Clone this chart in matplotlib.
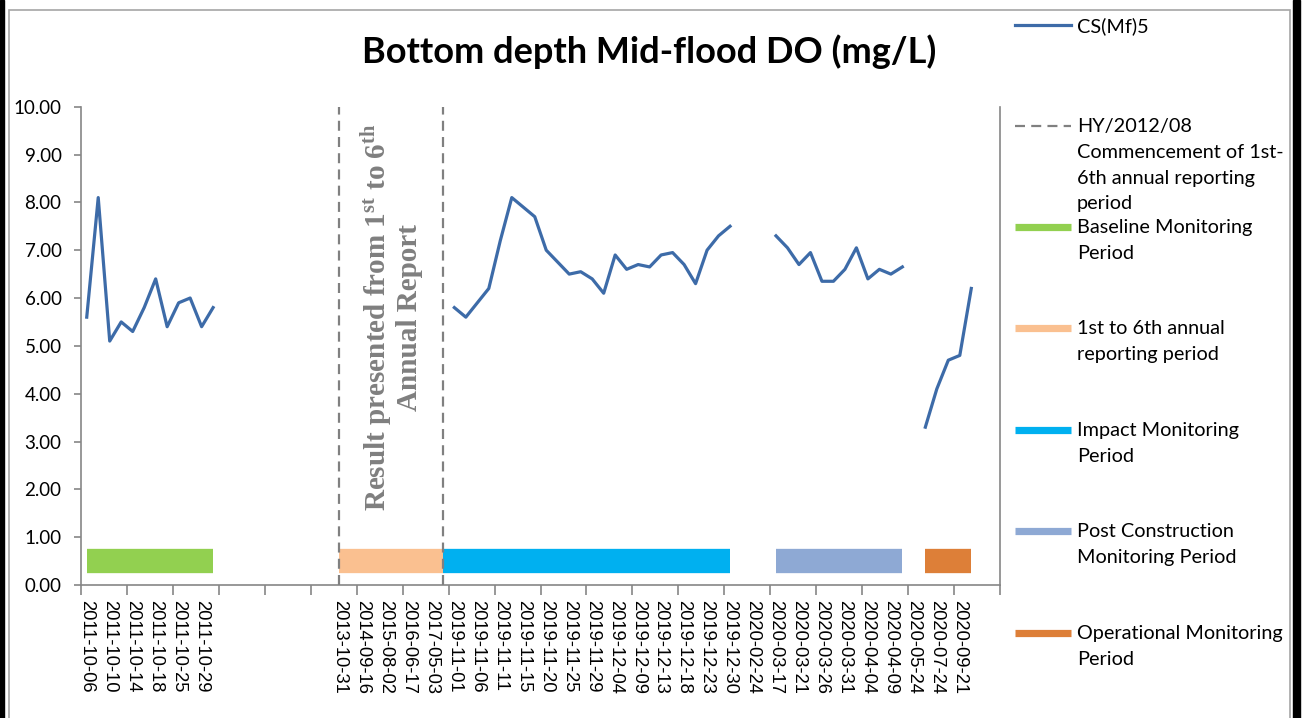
import numpy as np
import matplotlib
matplotlib.use("Agg")
import matplotlib.pyplot as plt
from matplotlib.lines import Line2D
from matplotlib.patches import Rectangle

plt.rcParams['mathtext.fontset'] = 'custom'
plt.rcParams['mathtext.rm'] = 'Liberation Serif:bold'
plt.rcParams['mathtext.bf'] = 'Liberation Serif:bold'
plt.rcParams['mathtext.it'] = 'Liberation Serif:bold'

W, H = 1303, 718

# ---------------- data ----------------
n_categories = 80
# labels displayed on every second category
tick_labels = ["2011-10-06", "2011-10-10", "2011-10-14", "2011-10-18", "2011-10-25", "2011-10-29",
               "", "", "", "", "",
               "2013-10-31", "2014-09-16", "2015-08-02", "2016-06-17", "2017-05-03",
               "2019-11-01", "2019-11-06", "2019-11-11", "2019-11-15", "2019-11-20", "2019-11-25",
               "2019-11-29", "2019-12-04", "2019-12-09", "2019-12-13", "2019-12-18", "2019-12-23",
               "2019-12-30", "2020-02-24", "2020-03-17", "2020-03-21", "2020-03-26", "2020-03-31",
               "2020-04-04", "2020-04-09", "2020-05-24", "2020-07-24", "2020-09-21", ""]

baseline_do = [5.6, 8.1, 5.1, 5.5, 5.3, 5.8, 6.4, 5.4, 5.9, 6.0, 5.4, 5.8]
reporting_gap = [None] * 20
impact_do = [5.8, 5.6, 5.9, 6.2, 7.2, 8.1, 7.9, 7.7, 7.0, 6.75, 6.5, 6.55, 6.4, 6.1, 6.9,
             6.6, 6.7, 6.65, 6.9, 6.95, 6.7, 6.3, 7.0, 7.3, 7.5]
gap2 = [None] * 3
post_do = [7.3, 7.05, 6.7, 6.95, 6.35, 6.35, 6.6, 7.05, 6.4, 6.6, 6.5, 6.65]
gap3 = [None]
operational_do = [3.3, 4.1, 4.7, 4.8, 6.2]
gap4 = [None] * 2
cs_mf5 = baseline_do + reporting_gap + impact_do + gap2 + post_do + gap3 + operational_do + gap4

period_labels = ["Baseline Monitoring\nPeriod", "1st to 6th annual\nreporting period",
                 "Impact Monitoring\nPeriod", "Post Construction\nMonitoring Period",
                 "Operational Monitoring\nPeriod"]
period_start = [0, 22, 31, 60, 73]
period_end = [11, 31, 56, 71, 77]
period_value = 0.5
period_colors = ["#92D050", "#FAC090", "#00B0F0", "#8EA9D4", "#DD7F38"]

reporting_markers = [22, 31]

# ---------------- figure ----------------
fig = plt.figure(figsize=(W / 100, H / 100), dpi=100)
def fx(px): return px / W
def fy(py): return 1 - py / H

ax = fig.add_axes([fx(81), fy(585), fx(1000) - fx(81), fy(106.7) - fy(585)])

x = np.arange(n_categories)
y = np.array([np.nan if v is None else v for v in cs_mf5], dtype=float)
line_color = "#3D6BA8"
ax.plot(x, y, color=line_color, lw=2.3, solid_joinstyle='round', zorder=5)

for s, e, c in zip(period_start, period_end, period_colors):
    xs = np.arange(s, e + 1)
    ax.plot(xs, [period_value] * len(xs), color=c, lw=17.5, solid_capstyle='butt', zorder=3)

dash = (0, (4.5, 2.8))
ax.vlines(reporting_markers, 0, 10, colors="#808080", linestyles=dash, lw=1.6, zorder=4)

ax.text(np.mean(reporting_markers), 5.6,
        "Result presented from 1$^{\\mathrm{st}}$ to 6$^{\\mathrm{th}}$\nAnnual Report",
        rotation=90, ha='center', va='center', multialignment='center',
        family='Liberation Serif', fontweight='bold', fontsize=21, color="#7F7F7F",
        linespacing=1.05, zorder=6)

ax.set_xlim(-0.5, n_categories - 0.5)
ax.set_ylim(0, 10)
ax.set_yticks(np.arange(0, 11, 1))
ax.set_yticklabels([f"{v:.2f}" for v in np.arange(0, 11, 1)], family='Lato', fontsize=13.5)

ax.set_xticks(np.arange(-0.5, n_categories, 4))
ax.set_xticklabels([])
ax.set_xticks(np.arange(0, n_categories, 2), minor=True)
ax.set_xticklabels(tick_labels, minor=True, rotation=-90, family='Liberation Sans', fontsize=13.2,
                   va='top', ha='center')
ax.tick_params(axis='x', which='major', length=7, color="#868686", width=1.2, direction='out')
ax.tick_params(axis='x', which='minor', length=0, pad=11)
ax.tick_params(axis='y', length=5, color="#868686", width=1.2, pad=9, direction='out')

for side in ['left', 'bottom', 'right']:
    ax.spines[side].set_color("#868686")
    ax.spines[side].set_linewidth(1.2)
ax.spines['top'].set_visible(False)

fig.text(fx(649), fy(52), "Bottom depth Mid-flood DO (mg/L)", ha='center', va='center',
         family='Lato', fontweight='bold', fontsize=26)

# ---------------- legend ----------------
leg_font = dict(family='Lato', fontsize=14.3, color='black')
entries = [("CS(Mf)5", dict(color=line_color, lw=2.3)),
           ("HY/2012/08\nCommencement of 1st-\n6th annual reporting\nperiod",
            dict(color="#808080", lw=1.6, linestyle=dash))]
for lab, c in zip(period_labels, period_colors):
    entries.append((lab, dict(color=c, lw=5.2, solid_capstyle='butt')))
entry_y = [25, 126, 227, 328, 430, 531, 633]
for (lab, style), py in zip(entries, entry_y):
    fig.add_artist(Line2D([fx(1015), fx(1071)], [fy(py), fy(py)], transform=fig.transFigure, **style))
    fig.text(fx(1077), fy(py - 8), lab, ha='left', va='top', linespacing=1.63, **leg_font)

# ---------------- chart frame ----------------
fig.add_artist(Rectangle((fx(8.5), fy(740)), fx(1290) - fx(8.5), fy(9.5) - fy(740),
                         transform=fig.transFigure, fill=False, edgecolor="#A6A6A6", lw=1.2))
fig.add_artist(Rectangle((0, 0), fx(4), 1, transform=fig.transFigure, color='black'))
fig.add_artist(Rectangle((fx(1293), 0), fx(7), 1, transform=fig.transFigure, color='black'))

fig.savefig("out.png", dpi=100)
